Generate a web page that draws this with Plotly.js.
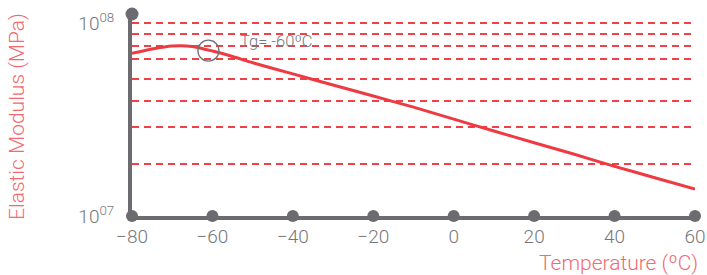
<!DOCTYPE html>
<html>
<head>
<meta charset="utf-8">
<script src="https://cdn.plot.ly/plotly-3.0.1.min.js"></script>
<style>html,body{margin:0;padding:0;background:#fff;}#chart{width:707px;height:275px;}</style>
</head>
<body>
<div id="chart"></div>
<script>
// Data
const temperature = [-80, -75, -70, -65, -60, -55, -50, -40, -30, -20, -10, 0, 10, 20, 30, 40, 50, 60];
const modulus = [6.99e7, 7.36e7, 7.62e7, 7.58e7, 7.18e7, 6.72e7, 6.24e7, 5.46e7, 4.78e7, 4.19e7, 3.67e7, 3.18e7, 2.76e7, 2.40e7, 2.09e7, 1.81e7, 1.58e7, 1.38e7];
const xTickVals = [-80, -60, -40, -20, 0, 20, 40, 60];
const yTickVals = [1e7, 1e8];
const yTickText = ['10<sup>07</sup>', '10<sup>08</sup>'];
const yGridVals = [1.87e7, 2.88e7, 3.95e7, 5.11e7, 6.53e7, 7.58e7, 8.80e7, 1e8];
const tgMarkerX = [-61];
const tgMarkerY = [7.21e7];
const tgLabelX = -53.6;
const tgLabelY = 8.03e7;
const tgLabel = 'Tg= -60ºC';

const xRange = [-80, 60];
const yRange = [7, 8.048];
const axisGrey = '#6b6b70';
const labelGrey = '#77777b';
const red = '#ee3a43';
const titleRed = '#f26a70';
const font = 'Roboto, "Open Sans", sans-serif';

const traces = [
  {
    // hidden trace anchoring the overlaid grid axis
    x: [xRange[0]], y: [yGridVals[0]], yaxis: 'y2', type: 'scatter', mode: 'markers',
    marker: {size: 0.1, opacity: 0}, hoverinfo: 'skip', showlegend: false
  },
  {
    x: temperature, y: modulus, type: 'scatter', mode: 'lines',
    line: {color: red, width: 3, shape: 'spline', smoothing: 0.6},
    hoverinfo: 'skip', showlegend: false
  },
  {
    x: tgMarkerX, y: tgMarkerY, type: 'scatter', mode: 'markers',
    marker: {symbol: 'circle-open', size: 21, color: '#707074', line: {width: 1.3, color: '#707074'}},
    hoverinfo: 'skip', showlegend: false
  },
  {
    x: xTickVals, y: xTickVals.map(() => Math.pow(10, yRange[0])), type: 'scatter', mode: 'markers',
    marker: {size: 12, color: axisGrey}, cliponaxis: false, hoverinfo: 'skip', showlegend: false
  },
  {
    x: [xRange[0]], y: [Math.pow(10, yRange[1])], type: 'scatter', mode: 'markers',
    marker: {size: 13, color: axisGrey}, cliponaxis: false, hoverinfo: 'skip', showlegend: false
  }
];

const layout = {
  width: 707, height: 275,
  margin: {l: 132, r: 12, t: 14, b: 59},
  paper_bgcolor: '#ffffff', plot_bgcolor: 'rgba(0,0,0,0)',
  font: {family: font, color: labelGrey},
  xaxis: {
    range: xRange, tickvals: xTickVals, ticks: '', showgrid: false, zeroline: false,
    showline: true, linecolor: axisGrey, linewidth: 4,
    tickfont: {family: font, size: 19, color: labelGrey, weight: 300},
    ticklabelstandoff: 0
  },
  yaxis: {
    type: 'log', range: yRange, tickvals: yTickVals, ticktext: yTickText, ticks: '',
    showgrid: false, zeroline: false, showline: true, linecolor: axisGrey, linewidth: 4,
    tickfont: {family: font, size: 19, color: labelGrey, weight: 300},
    ticklabelstandoff: 10
  },
  yaxis2: {
    type: 'log', range: yRange, overlaying: 'y', side: 'right',
    tickvals: yGridVals, showticklabels: false, ticks: '',
    showgrid: true, gridcolor: '#f04148', gridwidth: 2, griddash: '7px,5px',
    zeroline: false, showline: false
  },
  annotations: [
    {
      xref: 'paper', yref: 'paper', x: -0.2043, y: 0.495, xanchor: 'center', yanchor: 'middle',
      textangle: -90, text: 'Elastic Modulus (MPa)', showarrow: false,
      font: {family: font, size: 21, color: titleRed, weight: 300}
    },
    {
      xref: 'paper', yref: 'paper', x: 1.008, y: -0.231, xanchor: 'right', yanchor: 'middle',
      text: 'Temperature (ºC)', showarrow: false,
      font: {family: font, size: 21, color: titleRed, weight: 300}
    },
    {
      xref: 'x', yref: 'y', x: tgLabelX, y: Math.log10(tgLabelY), xanchor: 'left', yanchor: 'middle',
      text: tgLabel, showarrow: false,
      font: {family: font, size: 16.5, color: '#77777b', weight: 300}
    }
  ]
};

Plotly.newPlot('chart', traces, layout, {displayModeBar: false, staticPlot: true});
</script>
</body>
</html>
